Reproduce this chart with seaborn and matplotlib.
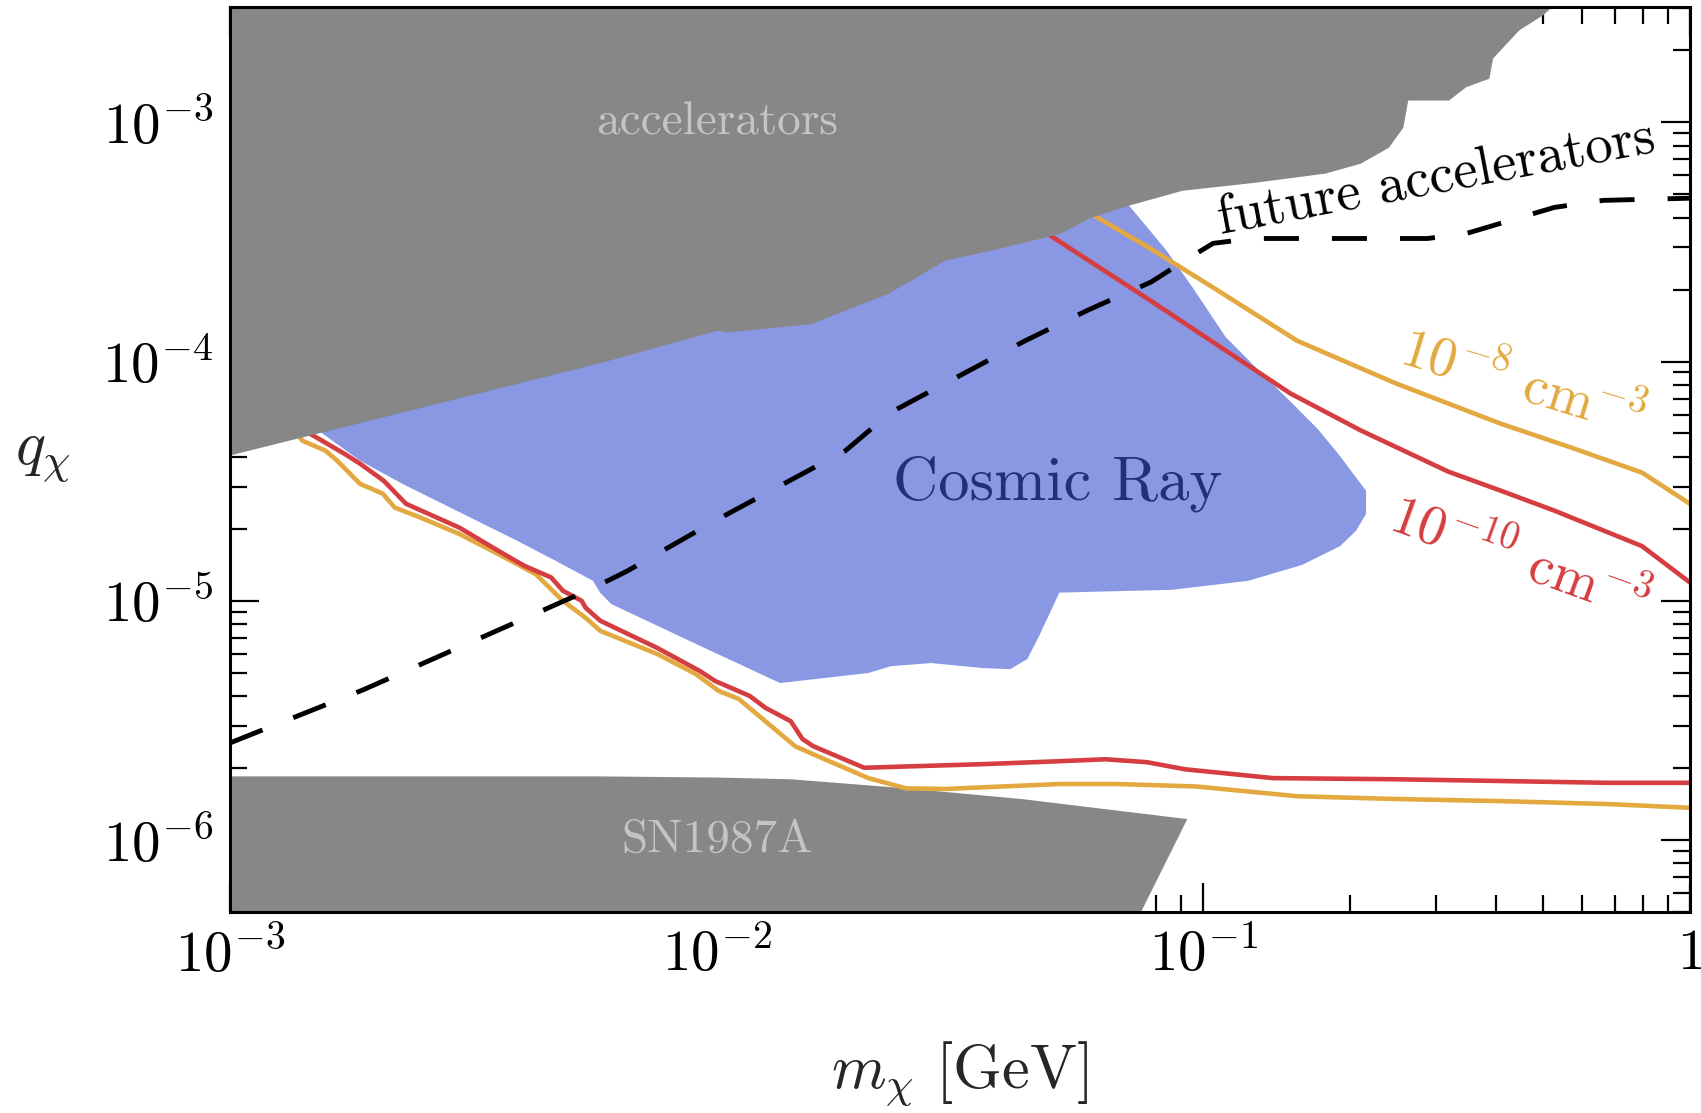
import numpy as np
import pandas as pd
import matplotlib
matplotlib.use("Agg")
import matplotlib.pyplot as plt
import seaborn as sns

# ---------------- data ----------------
xticks = [1e-3, 1e-2, 1e-1, 1.0]
xtick_labels = [r'$10^{-3}$', r'$10^{-2}$', r'$10^{-1}$', r'$1$']
yticks = [1e-6, 1e-5, 1e-4, 1e-3]
ytick_labels = [r'$10^{-6}$', r'$10^{-5}$', r'$10^{-4}$', r'$10^{-3}$']

# accelerator exclusion (lower boundary of the grey region)
acc_x = [1e-3, 5.77e-3, 1.0e-2, 1.05e-2, 1.56e-2, 2.24e-2, 2.94e-2, 3.86e-2, 5.06e-2, 5.85e-2,
         7.0e-2, 9.03e-2, 0.1276, 0.178, 0.210, 0.240, 0.257, 0.263, 0.319, 0.346,
         0.386, 0.393, 0.445, 0.498, 0.56]
acc_y = [4.07e-5, 9.9e-5, 1.35e-4, 1.33e-4, 1.44e-4, 1.92e-4, 2.65e-4, 3.0e-4, 3.43e-4, 4.0e-4,
         4.5e-4, 5.2e-4, 5.62e-4, 6.14e-4, 6.75e-4, 7.87e-4, 9.55e-4, 1.24e-3, 1.24e-3,
         1.41e-3, 1.53e-3, 1.86e-3, 2.44e-3, 2.82e-3, 3.5e-3]

# SN1987A exclusion (polygon)
sn_x = [1e-3, 4e-3, 5.77e-3, 1.0e-2, 1.42e-2, 2.45e-2, 4.23e-2, 9.27e-2, 0.0678, 1e-3]
sn_y = [1.84e-6, 1.84e-6, 1.84e-6, 1.82e-6, 1.79e-6, 1.64e-6, 1.48e-6, 1.22e-6, 3.4e-7, 3.4e-7]

# Cosmic ray region (polygon)
cr_x = [1.45e-3, 1.53e-3, 1.85e-3, 2.26e-3, 3.89e-3, 4.66e-3, 5.57e-3, 5.76e-3, 6.07e-3,
        9.08e-3, 1.35e-2, 2.05e-2, 2.28e-2, 2.76e-2, 3.53e-2, 4.01e-2, 4.35e-2, 4.62e-2,
        5.06e-2, 8.63e-2, 0.1236, 0.1595, 0.191, 0.206, 0.216, 0.216, 0.206, 0.191, 0.172,
        0.151, 0.1295, 0.111, 0.0952, 0.0838, 0.070, 0.070, 1.45e-3]
cr_y = [6.0e-5, 5.09e-5, 3.85e-5, 3.08e-5, 1.78e-5, 1.47e-5, 1.21e-5, 1.08e-5, 9.68e-6,
        6.58e-6, 4.52e-6, 4.98e-6, 5.32e-6, 5.48e-6, 5.22e-6, 5.17e-6, 5.70e-6, 7.26e-6,
        1.08e-5, 1.11e-5, 1.21e-5, 1.41e-5, 1.69e-5, 1.96e-5, 2.31e-5, 2.88e-5, 3.27e-5,
        4.02e-5, 5.21e-5, 6.80e-5, 9.25e-5, 1.27e-4, 2.03e-4, 2.93e-4, 4.55e-4, 1.2e-3, 1.2e-3]

# 10^-10 cm^-3 contour (red)
red_low_x = [1.33e-3, 1.46e-3, 1.72e-3, 1.85e-3, 2.07e-3, 2.30e-3, 2.96e-3, 3.55e-3, 4.02e-3,
             4.57e-3, 4.83e-3, 5.28e-3, 5.38e-3, 5.77e-3, 7.55e-3, 9.23e-3, 9.93e-3, 1.17e-2,
             1.26e-2, 1.42e-2, 1.50e-2, 1.58e-2, 2.01e-2, 3.52e-2, 5.06e-2, 6.29e-2, 7.66e-2,
             9.18e-2, 0.139, 0.249, 0.409, 0.676, 1.0]
red_low_y = [5.94e-5, 4.99e-5, 4.11e-5, 3.74e-5, 3.17e-5, 2.54e-5, 2.02e-5, 1.62e-5, 1.40e-5,
             1.25e-5, 1.10e-5, 9.98e-6, 9.33e-6, 8.23e-6, 6.34e-6, 5.08e-6, 4.61e-6, 3.99e-6,
             3.56e-6, 3.13e-6, 2.64e-6, 2.46e-6, 2.00e-6, 2.07e-6, 2.13e-6, 2.17e-6, 2.11e-6,
             1.97e-6, 1.81e-6, 1.79e-6, 1.76e-6, 1.73e-6, 1.73e-6]
red_up_x = [4.21e-2, 4.84e-2, 7.78e-2, 0.151, 0.211, 0.319, 0.409, 0.526, 0.797, 1.0]
red_up_y = [4.09e-4, 3.37e-4, 1.80e-4, 7.35e-5, 5.14e-5, 3.46e-5, 2.88e-5, 2.38e-5, 1.69e-5, 1.19e-5]

# 10^-8 cm^-3 contour (orange)
org_low_x = [1.30e-3, 1.41e-3, 1.57e-3, 1.66e-3, 1.85e-3, 2.06e-3, 2.18e-3, 2.47e-3, 2.96e-3,
             3.55e-3, 4.25e-3, 4.83e-3, 5.38e-3, 5.77e-3, 7.55e-3, 9.06e-3, 1.01e-2, 1.11e-2,
             1.45e-2, 1.65e-2, 2.05e-2, 2.45e-2, 2.94e-2, 5.06e-2, 6.64e-2, 9.66e-2, 0.156,
             0.249, 0.409, 0.676, 1.0]
org_low_y = [5.65e-5, 4.66e-5, 4.24e-5, 3.85e-5, 3.08e-5, 2.80e-5, 2.45e-5, 2.22e-5, 1.90e-5,
             1.57e-5, 1.29e-5, 9.98e-6, 8.47e-6, 7.47e-6, 5.98e-6, 4.93e-6, 4.19e-6, 3.88e-6,
             2.46e-6, 2.19e-6, 1.81e-6, 1.64e-6, 1.63e-6, 1.71e-6, 1.71e-6, 1.67e-6, 1.52e-6,
             1.48e-6, 1.45e-6, 1.41e-6, 1.36e-6]
org_up_x = [5.46e-2, 5.96e-2, 7.78e-2, 0.1047, 0.156, 0.249, 0.409, 0.571, 0.797, 1.0]
org_up_y = [4.72e-4, 4.08e-4, 2.97e-4, 2.04e-4, 1.22e-4, 8.09e-5, 5.49e-5, 4.36e-5, 3.43e-5, 2.54e-5]

# future accelerators (dashed)
fut_x = [1e-3, 1.88e-3, 3.77e-3, 5.58e-3, 6.55e-3, 1.01e-2, 1.84e-2, 2.28e-2, 4.30e-2,
         5.79e-2, 7.81e-2, 9.18e-2, 0.1047, 0.126, 0.289, 0.347, 0.526, 0.663, 1.0]
fut_y = [2.54e-6, 4.24e-6, 7.93e-6, 1.13e-5, 1.33e-5, 2.20e-5, 4.24e-5, 6.13e-5, 1.22e-4,
         1.64e-4, 2.15e-4, 2.65e-4, 3.12e-4, 3.27e-4, 3.27e-4, 3.43e-4, 4.41e-4, 4.72e-4, 4.82e-4]

# ---------------- style ----------------
sns.set_style("white")
plt.rcParams['font.family'] = ['serif']
plt.rcParams['font.serif'] = ['cmr10', 'DejaVu Serif']
plt.rcParams['mathtext.fontset'] = 'cm'
plt.rcParams['axes.unicode_minus'] = False
plt.rcParams['axes.formatter.use_mathtext'] = True

GREY = '#878787'
BLUE = '#8a98e4'
RED = '#d53d40'
ORANGE = '#e3a940'
NAVY = '#233079'
LIGHT = '#c4c4c4'

fig = plt.figure(figsize=(17.01, 11.13), dpi=100)
ax = fig.add_axes([230/1701, 1-911.7/1113, 1460/1701, (911.7-7.3)/1113])
ax.set_xscale('log')
ax.set_yscale('log')
ax.set_xlim(1e-3, 1.0)
ax.set_ylim(5.0e-7, 3.03e-3)

# regions
ax.fill(cr_x, cr_y, color=BLUE, lw=0, zorder=1)
ax.fill(sn_x, sn_y, color=GREY, lw=0, zorder=2)

LW = 3.3
for xs, ys, c in [(org_low_x, org_low_y, ORANGE), (org_up_x, org_up_y, ORANGE),
                  (red_low_x, red_low_y, RED), (red_up_x, red_up_y, RED)]:
    df = pd.DataFrame({'x': xs, 'y': ys})
    sns.lineplot(data=df, x='x', y='y', sort=False, estimator=None, color=c,
                 lw=LW, ax=ax, zorder=3)

dfu = pd.DataFrame({'x': fut_x, 'y': fut_y})
sns.lineplot(data=dfu, x='x', y='y', sort=False, estimator=None, color='black',
             lw=3.5, linestyle=(0, (7.2, 6.8)), ax=ax, zorder=3.5)

ax.fill_between(acc_x, acc_y, 1.0, color=GREY, lw=0, zorder=4)

# labels
ax.text(1e-2, 1.0e-3, 'accelerators', color=LIGHT, fontsize=34, ha='center', va='center', zorder=5)
ax.text(1e-2, 1.0e-6, 'SN1987A', color=LIGHT, fontsize=34, ha='center', va='center', zorder=5)
ax.text(0.0502, 3.09e-5, 'Cosmic Ray', color=NAVY, fontsize=45, ha='center', va='center', zorder=5)
ax.text(0.302, 5.73e-4, 'future accelerators', color='black', fontsize=39.5, ha='center',
        va='center', rotation=10.7, rotation_mode='anchor', zorder=5)
ax.text(0.453, 8.09e-5, r'$10^{-8}\ \mathrm{cm}^{-3}$', color=ORANGE, fontsize=40,
        ha='center', va='center', rotation=-17, rotation_mode='anchor', zorder=5)
ax.text(0.445, 1.49e-5, r'$10^{-10}\ \mathrm{cm}^{-3}$', color=RED, fontsize=40,
        ha='center', va='center', rotation=-20, rotation_mode='anchor', zorder=5)

# axes
ax.set_xticks(xticks, xtick_labels)
ax.set_yticks(yticks, ytick_labels)
ax.xaxis.set_minor_locator(matplotlib.ticker.LogLocator(base=10, subs=np.arange(2, 10), numticks=20))
ax.yaxis.set_minor_locator(matplotlib.ticker.LogLocator(base=10, subs=np.arange(2, 10), numticks=20))
ax.xaxis.set_minor_formatter(matplotlib.ticker.NullFormatter())
ax.yaxis.set_minor_formatter(matplotlib.ticker.NullFormatter())
ax.tick_params(which='both', direction='in', top=True, right=True, bottom=True, left=True,
               colors='black', labelsize=41)
ax.tick_params(which='major', length=21, width=1.6, pad=12)
ax.tick_params(which='minor', length=12.5, width=1.6)
for s in ax.spines.values():
    s.set_linewidth(2.2)
    s.set_color('black')
    s.set_zorder(10)

ax.set_xlabel(r'$m_\chi\ [\mathrm{GeV}]$', fontsize=45, va='center')
ax.set_ylabel(r'$q_\chi$', fontsize=45, rotation=0, ha='center', va='center')
ax.xaxis.set_label_coords(0.5, -0.1795)
ax.yaxis.set_label_coords(-0.128, 0.504)

fig.savefig('out.png', dpi=100)
